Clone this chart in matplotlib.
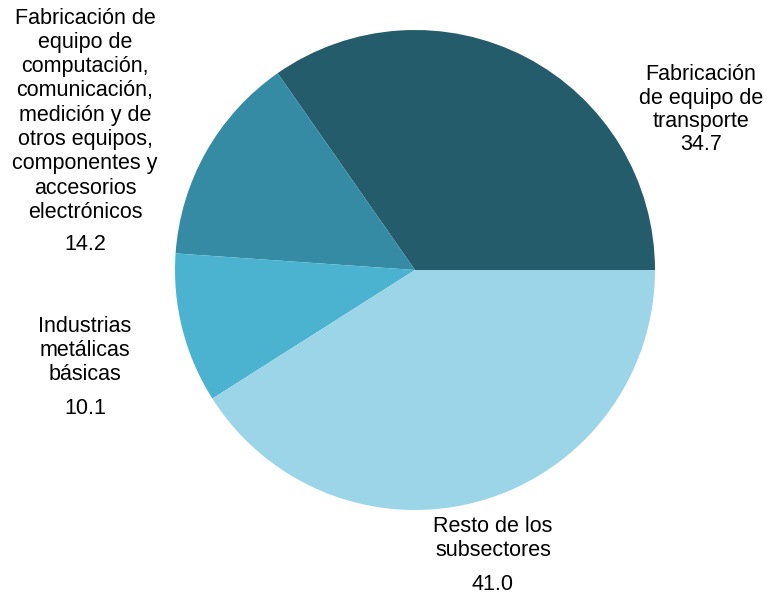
import matplotlib
matplotlib.use("Agg")
import matplotlib.pyplot as plt

# datos (%)
labels = ["Fabricación\nde equipo de\ntransporte",
          "Fabricación de\nequipo de\ncomputación,\ncomunicación,\nmedición y de\notros equipos,\ncomponentes y\naccesorios\nelectrónicos",
          "Industrias\nmetálicas\nbásicas",
          "Resto de los\nsubsectores"]
values = [34.7, 14.2, 10.1, 41.0]
colors = ["#245c6c", "#358ba4", "#4bb3cf", "#9cd5e8"]

plt.rcParams['font.family'] = ['Liberation Sans', 'DejaVu Sans']

W, H = 767, 600
fig = plt.figure(figsize=(W / 100, H / 100), dpi=100)
ax = fig.add_axes([0, 0, 1, 1])

cx, cy, r = 415, H - 270, 240
ax.pie(values, colors=colors, startangle=0, counterclock=True,
       center=(cx, cy), radius=r, wedgeprops=dict(linewidth=0))

ax.set_xlim(0, W)
ax.set_ylim(0, H)
ax.set_aspect('equal', adjustable='box')
ax.axis('off')

fs = 15.5


def label(x, y_top, text, y_num, num, step=24):
    # una linea por texto, y en pixeles desde arriba
    for i, line in enumerate(text.split("\n")):
        ax.text(x, H - y_top - step * i, line, ha='center', va='center', fontsize=fs)
    ax.text(x, H - y_num, f"{num:.1f}", ha='center', va='center', fontsize=fs)


label(701, 75, labels[0], 145, values[0], step=23.5)
label(85, 18, labels[1], 245, values[1], step=24.3)
label(85, 327, labels[2], 408, values[2])
label(493, 527, labels[3], 584, values[3])

fig.savefig("out.png", dpi=100)
